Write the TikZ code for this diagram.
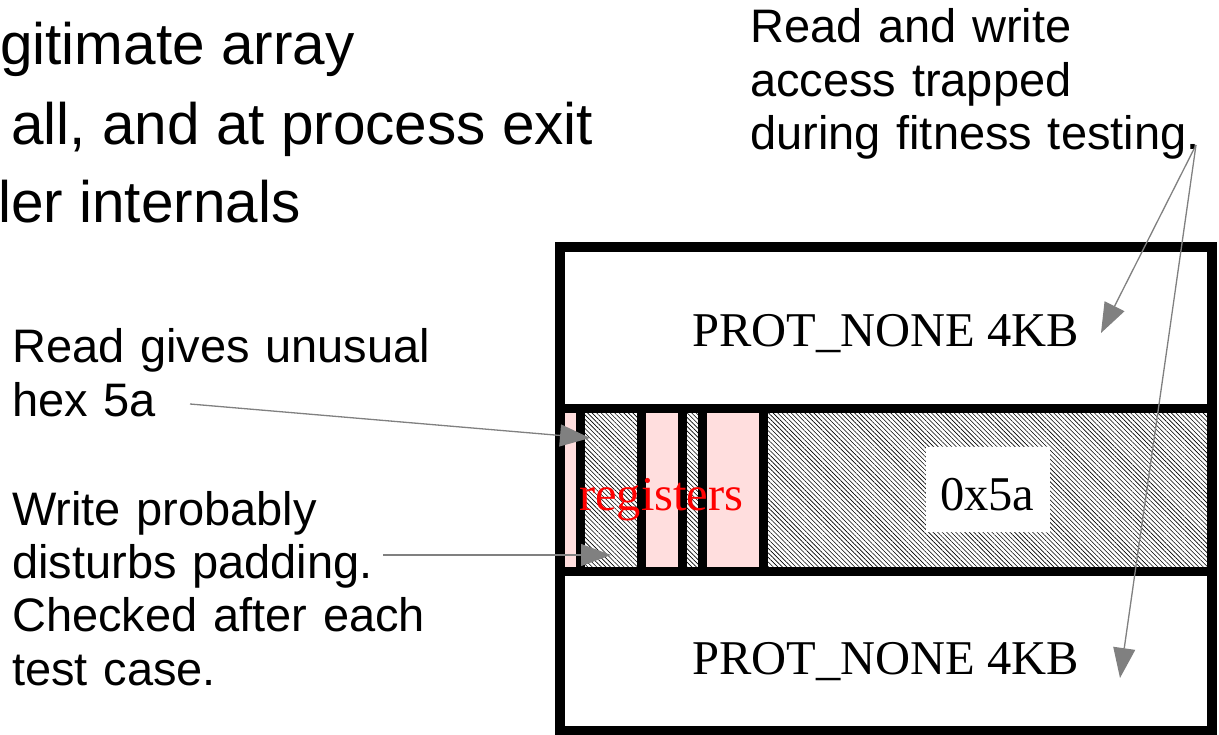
\documentclass[tikz,border=0pt]{standalone}
\usepackage{fontspec}
\setmainfont{Liberation Serif}
\newfontfamily\lsans{Liberation Sans}
\usetikzlibrary{arrows.meta,patterns.meta}
\definecolor{cellpink}{RGB}{255,222,222}
\definecolor{arrowgray}{RGB}{128,128,128}
\tikzset{
  lbl/.style={font=\lsans\fontsize{47}{53.5}\selectfont, inner sep=0pt, anchor=base west, align=left, text width=480pt},
  big/.style={font=\lsans\fontsize{58.5}{70}\selectfont, inner sep=0pt, anchor=base west},
  boxtxt/.style={font=\fontsize{48.5}{56}\selectfont, inner sep=0pt, anchor=base west},
  frame/.style={line width=10pt},
  bar/.style={line width=9pt},
  pinkcell/.style={fill=cellpink},
  hatchcell/.style={pattern={Lines[angle=-45,distance=3.2pt,line width=0.6pt]}},
  ptr/.style={draw=arrowgray, line width=1.3pt, -{Triangle[length=30pt,width=22pt]}}
}
\begin{document}
\begin{tikzpicture}[x=1pt,y=-1pt]
\useasboundingbox (0,0) rectangle (1219,735);
\clip (0,0) rectangle (1219,735);
% top-left bullet fragments
\node[big] (b1) at (0,65) {gitimate array};
\node[big] (b2) at (11,145) {all, and at process exit};
\node[big] (b3) at (-2,223) {ler internals};
% cells of the middle band
\fill[pinkcell] (564,413) rectangle (576,567);
\fill[hatchcell] (585,413) rectangle (637,567);
\fill[pinkcell] (646,413) rectangle (678,567);
\fill[hatchcell] (687,413) rectangle (698,567);
\fill[pinkcell] (707,413) rectangle (759,567);
\fill[hatchcell] (768,413) rectangle (1207,567);
\fill[white] (926,447) rectangle (1050,532);
% frame and bars
\draw[frame] (559.5,247) rectangle (1212,731);
\draw[bar] (559.5,408.5) -- (1212,408.5);
\draw[bar] (559.5,571.5) -- (1212,571.5);
\foreach \x in {580.5,641.5,682.5,702.5,763.5}
  \draw[bar] (\x,408.5) -- (\x,571.5);
% box labels
\node[boxtxt] (p1) at (692,347) {PROT\_NONE 4KB};
\node[boxtxt] (p2) at (692,674) {PROT\_NONE 4KB};
\node[boxtxt, text=red] (reg) at (579,510) {registers};
\node[boxtxt] (hex) at (940,510) {0x5a};
% side labels
\node[lbl] (rd) at (12,363) {Read gives unusual\\hex 5a};
\node[lbl] (wr) at (12,525) {Write probably\\disturbs padding.\\Checked after each\\test case.};
\node[lbl] (rw) at (750,43) {Read and write\\access trapped\\during fitness testing.};
% connector ends
\coordinate (rdS) at (190,404);
\coordinate (rdT) at (590,438);
\coordinate (wrS) at (383,555);
\coordinate (wrT) at (611,555);
\coordinate (rwS) at (1196,145);
\coordinate (rwT1) at (1101,333);
\coordinate (rwT2) at (1120,678);
\draw[ptr] (rdS) -- (rdT);
\draw[ptr] (wrS) -- (wrT);
\draw[ptr] (rwS) -- (rwT1);
\draw[ptr] (rwS) -- (rwT2);
\end{tikzpicture}
\end{document}
